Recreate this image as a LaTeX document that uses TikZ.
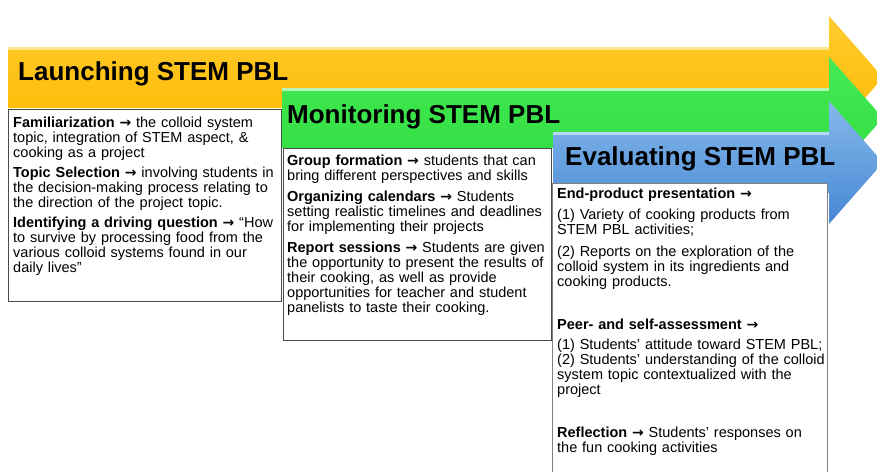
\documentclass[tikz,border=0pt]{standalone}
\usepackage{fontspec}
\setmainfont{Liberation Sans}
\newfontfamily\arrowfont{DejaVu Sans}
\usepackage{xcolor}
\usetikzlibrary{math}

\definecolor{launchtop}{HTML}{FFCB2E}
\definecolor{launchbot}{HTML}{FDBA00}
\definecolor{launchhi}{HTML}{FFE58A}
\definecolor{monitortop}{HTML}{45EA55}
\definecolor{monitorbot}{HTML}{2FDC3F}
\definecolor{monitorhi}{HTML}{B4F7B4}
\definecolor{evaltop}{HTML}{86B9EC}
\definecolor{evalbot}{HTML}{4687D2}
\definecolor{evalhi}{HTML}{B8D6F5}
\definecolor{boxline}{HTML}{4A4A4A}

\tikzset{
  phasetitle/.style={font=\fontsize{26}{30}\selectfont\bfseries, inner sep=0, anchor=base west},
  phasebox/.style={draw=boxline, line width=0.9, fill=white, inner sep=0, anchor=north west},
  phasetext/.style={font=\fontsize{14.5}{15}\selectfont, inner sep=0, anchor=north west,
    align=left, text width=300}
}
\newcommand{\goesto}{{\arrowfont\bfseries\fontsize{14}{15}\selectfont →}}

\begin{document}
\begin{tikzpicture}[x=1pt,y=-1pt]
\tikzmath{
\xbase=829; \xtip=883; \headover=31;
}
\useasboundingbox (0,0) rectangle (877,471);

% the three phase arrows, back to front
\foreach \xs/\yt/\yb/\ctop/\cbot/\chi in {8/47/108/launchtop/launchbot/launchhi,
    282/88/148/monitortop/monitorbot/monitorhi,
    553/132/193/evaltop/evalbot/evalhi}{
  \shade[top color=\ctop, bottom color=\cbot]
    (\xs,\yt) -- (\xbase,\yt) -- (\xbase,{\yt-\headover}) -- (\xtip,{(\yt+\yb)/2})
    -- (\xbase,{\yb+\headover}) -- (\xbase,\yb) -- (\xs,\yb) -- cycle;
  \fill[\chi] (\xs,\yt) rectangle (\xbase,{\yt+2.5});
}

% launching
\node[phasetitle] (launchtitle) at (18,80) {Launching STEM PBL};
\node[phasebox, minimum width=273, minimum height=192] (launchbox) at (8,109) {};
\node[phasetext] (launchtext) at (13,117) {%
\textbf{Familiarization} \goesto{} the colloid system\\
topic, integration of STEM aspect, \&\\
cooking as a project\\[5pt]
\textbf{Topic Selection} \goesto{} involving students in\\
the decision-making process relating to\\
the direction of the project topic.\\[5pt]
\textbf{Identifying a driving question} \goesto{} “How\\
to survive by processing food from the\\
various colloid systems found in our\\
daily lives”};

% monitoring
\node[phasetitle] (monitortitle) at (287,123) {Monitoring STEM PBL};
\node[phasebox, minimum width=268, minimum height=192] (monitorbox) at (283,148) {};
\node[phasetext] (monitortext) at (287,155) {%
\textbf{Group formation} \goesto{} students that can\\
bring different perspectives and skills\\[6pt]
\textbf{Organizing calendars} \goesto{} Students\\
setting realistic timelines and deadlines\\
for implementing their projects\\[6pt]
\textbf{Report sessions} \goesto{} Students are given\\
the opportunity to present the results of\\
their cooking, as well as provide\\
opportunities for teacher and student\\
panelists to taste their cooking.};

% evaluating
\node[phasetitle] (evaltitle) at (565,165) {Evaluating STEM PBL};
\node[phasebox, draw=gray, minimum width=275, minimum height=300] (evalbox) at (552,183) {};
\node[phasetext] (evaltext) at (557,188) {%
\textbf{End-product presentation \goesto}\\[6pt]
(1) Variety of cooking products from\\
STEM PBL activities;\\[7pt]
(2) Reports on the exploration of the\\
colloid system in its ingredients and\\
cooking products.\\[28pt]
\textbf{Peer- and self-assessment \goesto}\\[5pt]
(1) Students’ attitude toward STEM PBL;\\
(2) Students’ understanding of the colloid\\
system topic contextualized with the\\
project\\[28pt]
\textbf{Reflection} \goesto{} Students’ responses on\\
the fun cooking activities};
\end{tikzpicture}
\end{document}
